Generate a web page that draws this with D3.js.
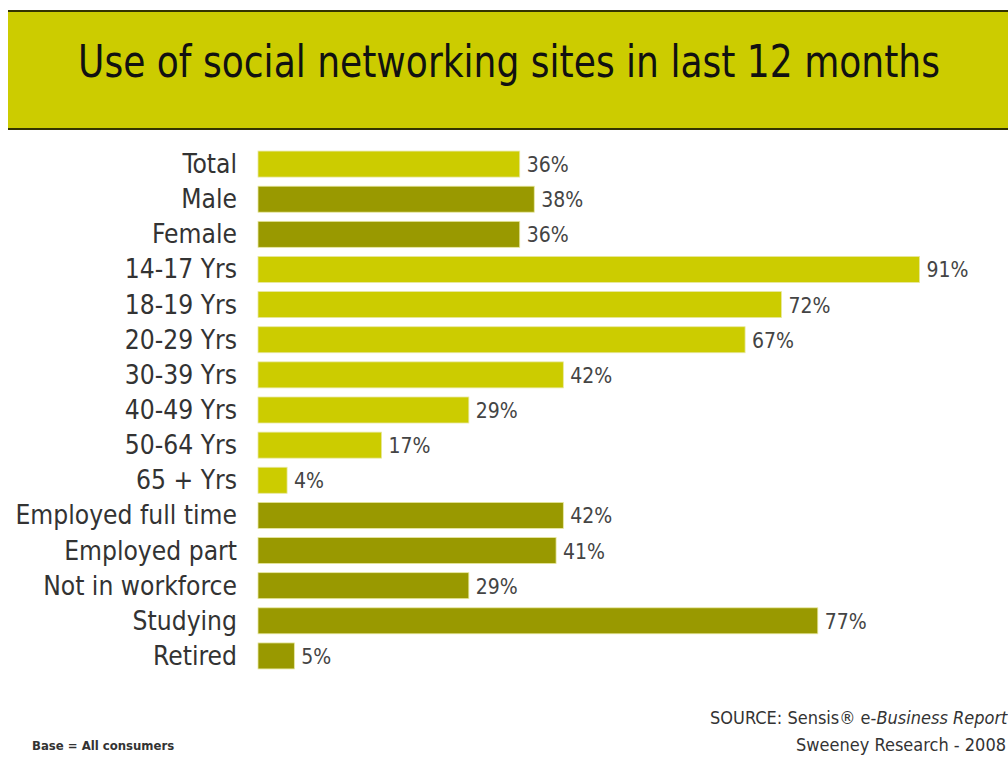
<!DOCTYPE html>
<html><head><meta charset="utf-8">
<script src="https://cdn.jsdelivr.net/npm/d3@7"></script>
<style>body{margin:0;background:#fff}svg{display:block}</style>
</head><body>
<svg id="c" width="1008" height="758"></svg>
<script>
const categories = ["Total","Male","Female","14-17 Yrs","18-19 Yrs","20-29 Yrs","30-39 Yrs","40-49 Yrs","50-64 Yrs","65 + Yrs","Employed full time","Employed part","Not in workforce","Studying","Retired"];
const values = [36,38,36,91,72,67,42,29,17,4,42,41,29,77,5];
const groups = ["light","dark","dark","light","light","light","light","light","light","light","dark","dark","dark","dark","dark"];
const title = "Use of social networking sites in last 12 months";

const svg = d3.select("#c");
const FONT = "'DejaVu Sans Condensed','DejaVu Sans',sans-serif";

// header band
svg.append("rect").attr("x",8).attr("y",10).attr("width",1000).attr("height",120).attr("fill","#333300");
svg.append("rect").attr("x",8).attr("y",12).attr("width",1000).attr("height",116).attr("fill","#cccc00");
const tt = svg.append("text").attr("x",0).attr("y",0).attr("font-family",FONT).attr("font-size",44)
  .attr("fill","#111").text(title);
const natural = tt.node().getComputedTextLength();
tt.attr("transform",`translate(78,77) scale(${862/natural},1)`);

const x = d3.scaleLinear().domain([0,100]).range([258,985]);
const y = d3.scaleBand().domain(categories).range([146.5,673.5]).paddingInner(0.26).paddingOuter(0.13);
const color = d3.scaleOrdinal().domain(["light","dark"]).range(["#cccc00","#999900"]);

const rows = svg.append("g").selectAll("g").data(categories).enter().append("g");
rows.append("rect").attr("x",x(0)).attr("y",d=>y(d)).attr("height",y.bandwidth())
  .attr("width",(d,i)=>x(values[i])-x(0)).attr("fill",(d,i)=>color(groups[i]))
  .attr("stroke","#e8e8a0").attr("stroke-width",0.8);

rows.append("text").attr("x",(d,i)=>x(values[i])+7).attr("y",d=>y(d)+y.bandwidth()/2+8)
  .attr("font-family",FONT).attr("font-size",21).attr("fill","#444")
  .text((d,i)=>values[i]+"%");

const labels = rows.append("text").attr("x",237).attr("y",d=>y(d)+y.bandwidth()/2+9)
  .attr("text-anchor","end").attr("font-family",FONT).attr("font-size",27).attr("fill","#333")
  .text(d=>d);
labels.attr("transform","translate(237,0) scale(0.97,1) translate(-237,0)");

svg.append("text").attr("x",32).attr("y",750).attr("font-family",FONT).attr("font-size",13)
  .attr("font-weight","bold").attr("fill","#333").text("Base = All consumers");

const src = svg.append("text").attr("x",710).attr("y",724).attr("font-family",FONT).attr("font-size",18).attr("fill","#333");
src.append("tspan").text("SOURCE: Sensis® e-");
src.append("tspan").attr("font-style","italic").text("Business Report");
svg.append("text").attr("x",1006).attr("y",751).attr("text-anchor","end").attr("font-family",FONT)
  .attr("font-size",18).attr("fill","#333").text("Sweeney Research - 2008");
</script>
</body></html>
